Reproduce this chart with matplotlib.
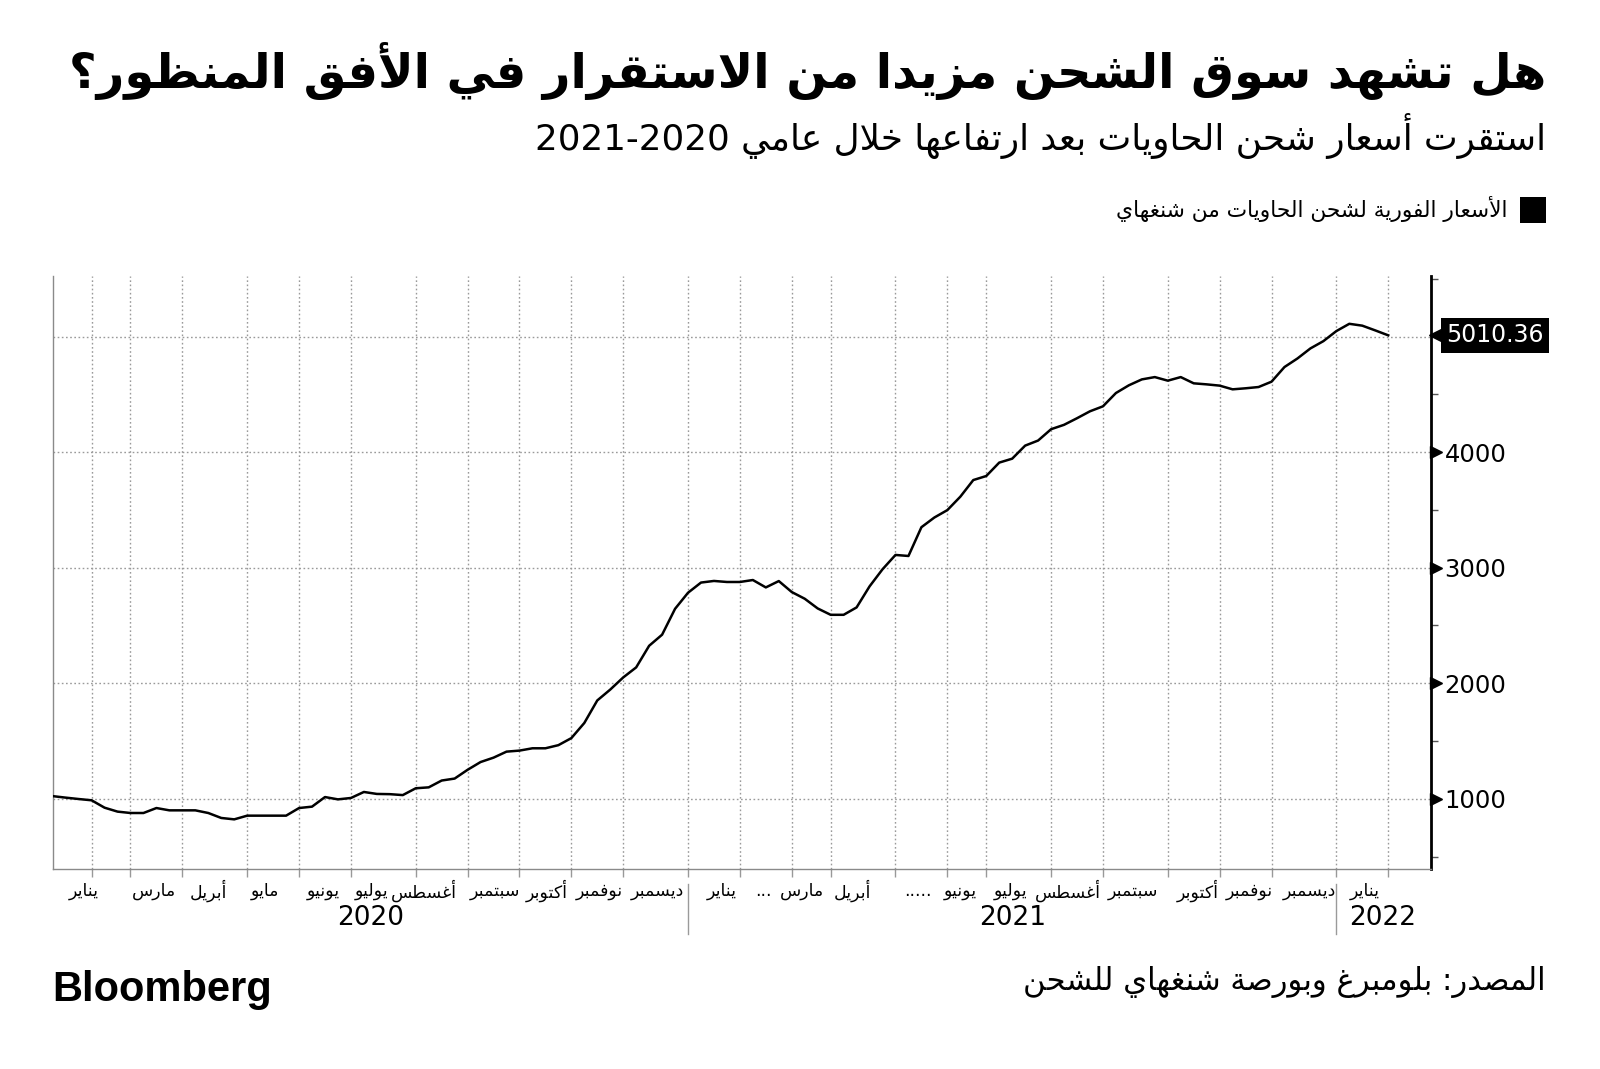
import re
import numpy as np
import matplotlib
matplotlib.use("Agg")
import matplotlib.pyplot as plt
import matplotlib.transforms as mtransforms
from matplotlib.patches import Rectangle

# Shanghai container freight index, weekly (Jan 2020 - Jan 2022)
scfi = [1023, 1010, 998, 987, 923, 889, 877, 877, 920, 900,
        900, 900, 877, 834, 822, 854, 854, 854, 854, 920,
        932, 1015, 995, 1007, 1059, 1042, 1040, 1032, 1091, 1099,
        1158, 1175, 1251, 1318, 1356, 1408, 1417, 1437, 1437, 1464,
        1525, 1656, 1851, 1945, 2050, 2137, 2324, 2420, 2644, 2783,
        2871, 2885, 2876, 2876, 2893, 2829, 2884, 2789, 2731, 2647,
        2592, 2592, 2656, 2838, 2986, 3110, 3101, 3350, 3434, 3498,
        3614, 3758, 3793, 3909, 3943, 4056, 4100, 4198, 4236, 4293,
        4353, 4396, 4511, 4578, 4629, 4649, 4618, 4649, 4595, 4586,
        4575, 4543, 4552, 4563, 4609, 4736, 4810, 4897, 4960, 5047,
        5110, 5094, 5053, 5010.36]

# week indices of the vertical grid lines
grid_weeks = [3, 6, 10, 15, 19, 23, 28, 32, 36, 40, 44, 49, 53, 57, 60,
              65, 69, 72, 77, 81, 86, 90, 94, 99, 103]
year_breaks = [49, 99]

month_labels = ["يناير", "مارس", "أبريل", "مايو", "يونيو", "يوليو", "أغسطس",
                "سبتمبر", "أكتوبر", "نوفمبر", "ديسمبر",
                "يناير", "...", "مارس", "أبريل", ".....", "يونيو", "يوليو",
                "أغسطس", "سبتمبر", "أكتوبر", "نوفمبر", "ديسمبر", "يناير"]
month_pos = [2.4, 7.8, 12.0, 16.4, 20.9, 24.6, 28.6, 34.1, 38.1, 42.2, 46.6,
             51.6, 54.8, 57.8, 61.7, 66.7, 70.0, 73.9, 78.3, 83.3, 88.3,
             92.3, 96.9, 101.2]
years = ["2020", "2021", "2022"]
year_pos = [24.5, 74.0, 102.6]

y_major = [1000, 2000, 3000, 4000, 5000]
y_major_labels = ["1000", "2000", "3000", "4000", ""]
y_minor = [500, 1500, 2500, 3500, 4500, 5500]

title = "هل تشهد سوق الشحن مزيدا من الاستقرار في الأفق المنظور؟"
subtitle = "استقرت أسعار شحن الحاويات بعد ارتفاعها خلال عامي 2020-2021"
legend_label = "الأسعار الفورية لشحن الحاويات من شنغهاي"
source = "المصدر: بلومبرغ وبورصة شنغهاي للشحن"

# --- minimal Arabic shaping (presentation forms) + visual ordering ---
DUAL = {'ئ': 0xFE89, 'ب': 0xFE8F, 'ت': 0xFE95, 'ث': 0xFE99, 'ج': 0xFE9D,
        'ح': 0xFEA1, 'خ': 0xFEA5, 'س': 0xFEB1, 'ش': 0xFEB5, 'ص': 0xFEB9,
        'ض': 0xFEBD, 'ط': 0xFEC1, 'ظ': 0xFEC5, 'ع': 0xFEC9, 'غ': 0xFECD,
        'ف': 0xFED1, 'ق': 0xFED5, 'ك': 0xFED9, 'ل': 0xFEDD, 'م': 0xFEE1,
        'ن': 0xFEE5, 'ه': 0xFEE9, 'ي': 0xFEF1}
RIGHT = {'آ': 0xFE81, 'أ': 0xFE83, 'ؤ': 0xFE85, 'إ': 0xFE87, 'ا': 0xFE8D,
         'ة': 0xFE93, 'د': 0xFEA9, 'ذ': 0xFEAB, 'ر': 0xFEAD, 'ز': 0xFEAF,
         'و': 0xFEED, 'ى': 0xFEEF}
LAM_ALEF = {'آ': 0xFEF5, 'أ': 0xFEF7, 'إ': 0xFEF9, 'ا': 0xFEFB}


def shape(s):
    out = []
    i = 0
    while i < len(s):
        c = s[i]
        joins_prev = i > 0 and s[i - 1] in DUAL
        nxt = s[i + 1] if i + 1 < len(s) else ''
        if c == 'ل' and nxt in LAM_ALEF:
            out.append(chr(LAM_ALEF[nxt] + (1 if joins_prev else 0)))
            i += 2
            continue
        if c in DUAL:
            jn = nxt in DUAL or nxt in RIGHT
            f = 3 if (joins_prev and jn) else 1 if joins_prev else 2 if jn else 0
            out.append(chr(DUAL[c] + f))
        elif c in RIGHT:
            out.append(chr(RIGHT[c] + (1 if joins_prev else 0)))
        else:
            out.append(c)
        i += 1
    return ''.join(out)


def ar(s):
    parts = re.findall(r'[0-9]+|[^0-9]+', shape(s))
    return ''.join(p if p[0].isdigit() else p[::-1] for p in reversed(parts))


plt.rcParams['font.family'] = ['DejaVu Sans']

W, H = 1600, 1069
fig = plt.figure(figsize=(W / 100, H / 100), dpi=100)
renderer = fig.canvas.get_renderer()


def fit_width(t, width_px):
    w = t.get_window_extent(renderer).width
    t.set_fontsize(t.get_fontsize() * width_px / w)


ax_l, ax_r, ax_t, ax_b = 52.7, 1430.6, 275.5, 869.4
ax = fig.add_axes([ax_l / W, 1 - ax_b / H, (ax_r - ax_l) / W, (ax_b - ax_t) / H])

x = np.arange(len(scfi))
ax.plot(x, scfi, color='black', lw=1.8, zorder=3)

ax.set_xlim(0, 106.27)
ax.set_ylim(389, 5528)

grid_kw = dict(color='#9a9a9a', lw=1.0, linestyle=(0, (1.2, 1.8)))
ax.set_xticks(grid_weeks)
ax.set_xticklabels([])
ax.set_yticks(y_major)
ax.set_yticklabels(y_major_labels)
ax.set_yticks(y_minor, minor=True)
ax.grid(True, axis='x', which='major', **grid_kw)
ax.grid(True, axis='y', which='major', **grid_kw)

ax.yaxis.tick_right()
ax.tick_params(axis='y', which='major', length=0, pad=10, labelsize=17.5)
ax.tick_params(axis='y', which='minor', length=5, width=1, color='#555555')
ax.tick_params(axis='x', which='major', length=6, width=1, color='#999999')

ax.spines['top'].set_visible(False)
ax.spines['left'].set_color('#8a8a8a')
ax.spines['left'].set_linewidth(1)
ax.spines['bottom'].set_color('#8a8a8a')
ax.spines['bottom'].set_linewidth(1)
ax.spines['right'].set_color('black')
ax.spines['right'].set_linewidth(2)

# triangle tick markers on the right axis (labelled ticks only)
trans_r = mtransforms.blended_transform_factory(ax.transAxes, ax.transData)
tri_y = [v for v, lab in zip(y_major, y_major_labels) if lab]
ax.plot([1.0] * len(tri_y), tri_y, linestyle='none', marker='>', ms=8,
        color='black', clip_on=False,
        transform=mtransforms.offset_copy(trans_r, fig=fig, x=5, y=0, units='dots'))

# last value label
last = scfi[-1]
ax.plot([1.0], [last], marker='<', ms=13, color='black', clip_on=False,
        transform=mtransforms.offset_copy(trans_r, fig=fig, x=7, y=0, units='dots'))
ax.text(1.0, last, f"{last:.2f}", color='white', fontsize=17, ha='left', va='center',
        transform=mtransforms.offset_copy(trans_r, fig=fig, x=16, y=0, units='dots'),
        bbox=dict(boxstyle='square,pad=0.22', fc='black', ec='none'), clip_on=False)

# month and year labels under the axis
trans_b = mtransforms.blended_transform_factory(ax.transData, fig.transFigure)
for lab, p in zip(month_labels, month_pos):
    ax.text(p, 1 - 891 / H, ar(lab), transform=trans_b, ha='center', va='center',
            fontsize=12.5, clip_on=False)
for lab, p in zip(years, year_pos):
    ax.text(p, 1 - 918 / H, lab, transform=trans_b, ha='center', va='center',
            fontsize=19, clip_on=False)
for b in year_breaks:
    ax.plot([b, b], [1 - 884 / H, 1 - 934 / H], transform=trans_b, color='#9a9a9a',
            lw=1, clip_on=False)

# titles
t1 = fig.text(1546 / W, 1 - 71 / H, ar(title), ha='right', va='center', fontsize=38,
              fontweight='bold')
fit_width(t1, 1477)
t2 = fig.text(1546 / W, 1 - 136 / H, ar(subtitle), ha='right', va='center', fontsize=26)
fit_width(t2, 1010)

# legend
fig.patches.append(Rectangle((1520 / W, 1 - 222.5 / H), 26 / W, 25.5 / H,
                             transform=fig.transFigure, fc='black', ec='none'))
t3 = fig.text(1507 / W, 1 - 209 / H, ar(legend_label), ha='right', va='center', fontsize=15.5)
fit_width(t3, 392)

# footer
t4 = fig.text(1546 / W, 1 - 982 / H, ar(source), ha='right', va='center', fontsize=22)
fit_width(t4, 522)
fig.text(52 / W, 1 - 990 / H, "Bloomberg", ha='left', va='center', fontsize=30,
         fontweight='bold', family='Liberation Sans')

fig.savefig('out.png', dpi=100, facecolor='white')
